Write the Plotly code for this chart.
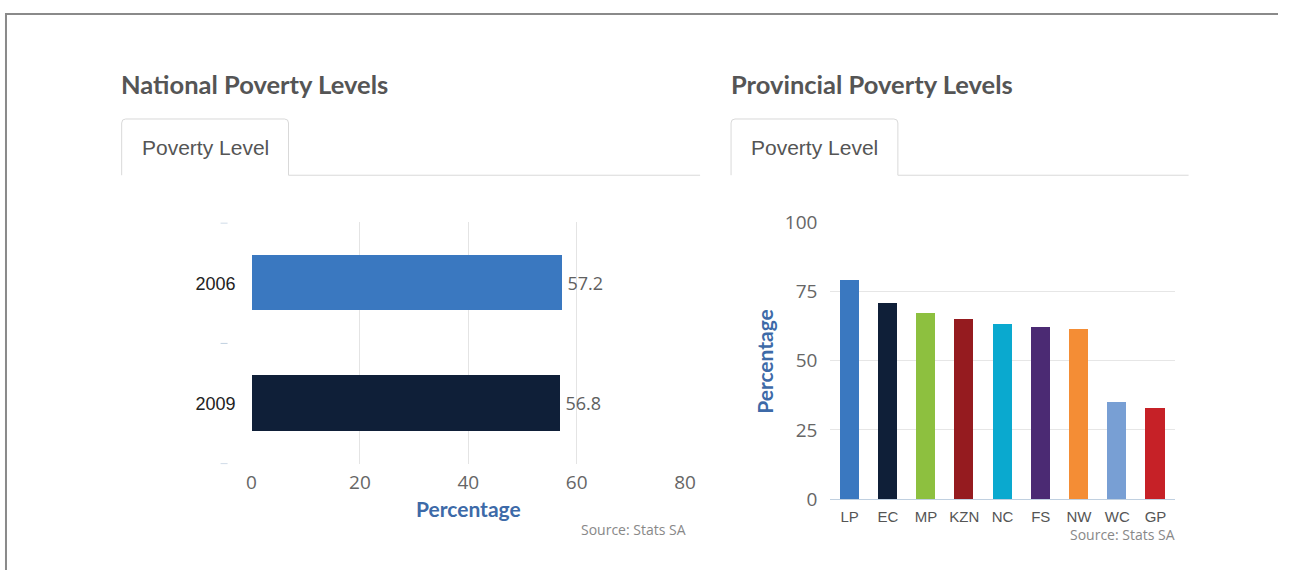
import plotly.graph_objects as go

# ---- data ----
years = ["2006", "2009"]
national_values = [57.2, 56.8]
national_colors = ["#3a78c0", "#0f1f38"]

provinces = ["LP", "EC", "MP", "KZN", "NC", "FS", "NW", "WC", "GP"]
provincial_values = [78.9, 70.6, 67.1, 64.9, 63.2, 62.1, 61.4, 35.1, 32.7]
provincial_colors = ["#3a78c0", "#0f1f38", "#8dc03f", "#951b1f", "#0aa9cf",
                     "#4b2a73", "#f48d35", "#789fd4", "#c62127"]

national_ticks = [0, 20, 40, 60, 80]
provincial_ticks = [0, 25, 50, 75, 100]

W, H = 1289, 583
# the photographed page lands slightly inset/scaled in the picture; compensate
AX, BX = 0.9886, 4.2
AY, BY = 0.96, 11.5


def px(x):
    return max(0.0, min(1.0, (x - BX) / AX / W))


def py(y):
    return max(0.0, min(1.0, 1 - (y - BY) / AY / H))


fig = go.Figure()

fig.add_trace(go.Bar(
    y=years, x=national_values, orientation="h",
    marker=dict(color=national_colors, line=dict(width=0)),
    width=0.46,
    text=[f"\u2009{v:.1f}" for v in national_values], textposition="outside",
    textfont=dict(family="Open Sans", size=18, color="#606060"),
    cliponaxis=False, xaxis="x", yaxis="y", showlegend=False,
    hoverinfo="x+y",
))

fig.add_trace(go.Bar(
    x=provinces, y=provincial_values,
    marker=dict(color=provincial_colors, line=dict(width=0)),
    width=0.5, xaxis="x2", yaxis="y2", showlegend=False,
))

tick_font = dict(family="Open Sans", size=19, color="#666666")

fig.update_layout(
    autosize=True,
    margin=dict(l=0, r=0, t=0, b=0, pad=0),
    paper_bgcolor="white", plot_bgcolor="white",
    bargap=0,
    xaxis=dict(domain=[px(251), px(685)], range=[0, 80], tickvals=national_ticks,
               showgrid=True, gridcolor="#e4e4e4", gridwidth=1, zeroline=False,
               showline=False, ticks="", tickfont=tick_font, anchor="y",
               ticklabelstandoff=5, fixedrange=True),
    yaxis=dict(domain=[py(465), py(222)], type="category", categoryorder="array",
               categoryarray=years, autorange="reversed", showgrid=False,
               zeroline=False, showline=False, ticks="",
               tickfont=dict(family="Liberation Sans", size=18, color="#222222"),
               ticklabelstandoff=15, anchor="x", fixedrange=True),
    xaxis2=dict(domain=[px(830.5), px(1175)], type="category", showgrid=False,
                showline=True, linecolor="#c0d0e0", linewidth=1, ticks="",
                tickfont=dict(family="Liberation Sans", size=15, color="#555555"),
                ticklabelstandoff=4, anchor="y2", fixedrange=True),
    yaxis2=dict(domain=[py(500), py(222)], range=[0, 100], tickvals=provincial_ticks,
                showgrid=True, gridcolor="#e6e6e6", zeroline=False, showline=False,
                ticks="", tickfont=tick_font, ticklabelstandoff=12, anchor="x2",
                fixedrange=True),
)

shapes = []
# outer frame lines (top and left edges of the scanned frame)
shapes.append(dict(type="line", xref="paper", yref="paper", x0=0, x1=1,
                   y0=1 - 1.0 / H, y1=1 - 1.0 / H, line=dict(color="#8a8a8a", width=2)))
shapes.append(dict(type="line", xref="paper", yref="paper", x0=1.0 / W, x1=1.0 / W,
                   y0=1, y1=0, line=dict(color="#8a8a8a", width=2)))


def tab(x0, x1, line_end, top=118, bottom=174.5, r=4):
    p = (f"M {px(x0)} {py(bottom)} L {px(x0)} {py(top + r)} "
         f"Q {px(x0)} {py(top)} {px(x0 + r)} {py(top)} "
         f"L {px(x1 - r)} {py(top)} Q {px(x1)} {py(top)} {px(x1)} {py(top + r)} "
         f"L {px(x1)} {py(bottom)} L {px(line_end)} {py(bottom)}")
    return dict(type="path", xref="paper", yref="paper", path=p,
                line=dict(color="#d9d9d9", width=1))


shapes.append(tab(121, 288, 700))
shapes.append(tab(731, 898, 1189))

# category boundary tick marks of the national chart
for b in [-0.5, 0.5, 1.5]:
    shapes.append(dict(type="line", xref="paper", yref="y", x0=px(220), x1=px(227),
                       y0=b, y1=b, line=dict(color="#c0d0e0", width=1)))
fig.update_layout(shapes=shapes)

title_font = dict(family="Lato", size=25.5, color="#555555", weight="bold")
tab_font = dict(family="Liberation Sans", size=21, color="#555555")
axis_title_font = dict(family="Lato", size=21, color="#3d6aa8", weight="bold")
source_font = dict(family="Open Sans", size=14, color="#888888")

annotations = [
    dict(text="National Poverty Levels", x=px(118), y=py(83), xanchor="left",
         yanchor="middle", font=title_font),
    dict(text="Provincial Poverty Levels", x=px(729), y=py(83), xanchor="left",
         yanchor="middle", font=title_font),
    dict(text="Poverty Level", x=px(204.5), y=py(147), xanchor="center",
         yanchor="middle", font=tab_font),
    dict(text="Poverty Level", x=px(814.5), y=py(147), xanchor="center",
         yanchor="middle", font=tab_font),
    dict(text="Percentage", x=px(468), y=py(509), xanchor="center",
         yanchor="middle", font=axis_title_font),
    dict(text="Source: Stats SA", x=px(688), y=py(530), xanchor="right",
         yanchor="middle", font=source_font),
    dict(text="Percentage", x=px(765), y=py(362), xanchor="center",
         yanchor="middle", textangle=-90, font=axis_title_font),
    dict(text="Source: Stats SA", x=px(1177), y=py(524), xanchor="right",
         yanchor="top", font=source_font),
]
for a in annotations:
    a.update(xref="paper", yref="paper", showarrow=False)
fig.update_layout(annotations=annotations)

fig.write_html(
    "out.html",
    config={"displayModeBar": False, "responsive": True},
    default_width="100vw",
    default_height="100vh",
    post_script="document.body.style.margin='0';document.body.style.overflow='hidden';",
)
